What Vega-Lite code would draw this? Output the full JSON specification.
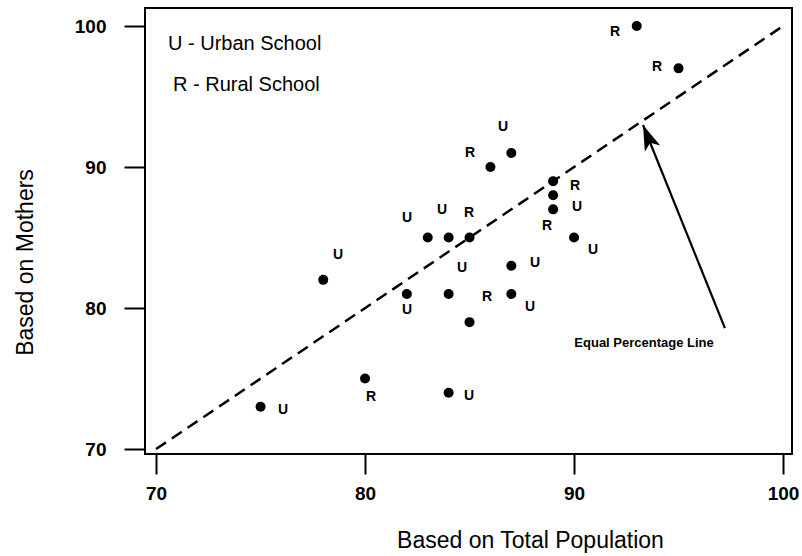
{
  "$schema": "https://vega.github.io/schema/vega-lite/v6.json",
  "width": 647,
  "height": 446,
  "autosize": {"type": "none"},
  "padding": {"left": 145, "top": 8, "right": 10, "bottom": 102},
  "background": "white",
  "config": {
    "view": {"stroke": "black", "strokeWidth": 2},
    "font": "Liberation Sans",
    "axis": {
      "domain": false,
      "grid": false,
      "tickColor": "black",
      "tickWidth": 2,
      "labelColor": "black",
      "titleColor": "black",
      "labelFont": "Liberation Sans",
      "titleFont": "Liberation Sans",
      "labelFontWeight": "bold",
      "titleFontWeight": "normal"
    }
  },
  "datasets": {
    "schools": [
      {"pop": 93, "moth": 100, "school": "R", "lx": 91.96, "ly": 99.57},
      {"pop": 95, "moth": 97, "school": "R", "lx": 93.97, "ly": 97.09},
      {"pop": 86, "moth": 90, "school": "R", "lx": 85.02, "ly": 90.99},
      {"pop": 87, "moth": 91, "school": "U", "lx": 86.6, "ly": 92.84},
      {"pop": 89, "moth": 89, "school": "R", "lx": 90.05, "ly": 88.65},
      {"pop": 89, "moth": 88, "school": "U", "lx": 90.14, "ly": 87.16},
      {"pop": 89, "moth": 87, "school": "R", "lx": 88.71, "ly": 85.82},
      {"pop": 90, "moth": 85, "school": "U", "lx": 90.91, "ly": 84.11},
      {"pop": 83, "moth": 85, "school": "U", "lx": 82.01, "ly": 86.38},
      {"pop": 84, "moth": 85, "school": "U", "lx": 83.68, "ly": 86.95},
      {"pop": 85, "moth": 85, "school": "R", "lx": 84.98, "ly": 86.74},
      {"pop": 78, "moth": 82, "school": "U", "lx": 78.71, "ly": 83.76},
      {"pop": 87, "moth": 83, "school": "U", "lx": 88.13, "ly": 83.19},
      {"pop": 84, "moth": 81, "school": "U", "lx": 84.64, "ly": 82.84},
      {"pop": 82, "moth": 81, "school": "U", "lx": 82.01, "ly": 79.86},
      {"pop": 87, "moth": 81, "school": "U", "lx": 87.89, "ly": 80.07},
      {"pop": 85, "moth": 79, "school": "R", "lx": 85.84, "ly": 80.78},
      {"pop": 80, "moth": 75, "school": "R", "lx": 80.29, "ly": 73.69},
      {"pop": 75, "moth": 73, "school": "U", "lx": 76.08, "ly": 72.77},
      {"pop": 84, "moth": 74, "school": "U", "lx": 84.98, "ly": 73.76}
    ],
    "equal": [{"x1": 70, "y1": 70, "x2": 100, "y2": 100}],
    "arrow": [{"x1": 97.22, "y1": 78.58, "x2": 93.3, "y2": 92.98}],
    "keys": [
      {"kx": 70.57, "ky": 98.76, "txt": "U - Urban School"},
      {"kx": 70.81, "ky": 95.82, "txt": "R - Rural School"}
    ],
    "note": [{"nx": 93.35, "ny": 77.52, "txt": "Equal Percentage Line"}]
  },
  "layer": [
    {
      "data": {"name": "equal"},
      "mark": {"type": "rule", "strokeDash": [12, 7], "strokeWidth": 2.5, "color": "black"},
      "encoding": {
        "x": {
          "field": "x1", "type": "quantitative",
          "scale": {"domain": [69.47, 100.43], "nice": false, "zero": false},
          "axis": {"values": [70, 80, 90, 100], "tickSize": 20, "labelFontSize": 19, "labelPadding": 10, "title": "Based on Total Population", "titleFontSize": 23, "titleX": 385, "titleY": 86, "titleAlign": "center", "titleBaseline": "middle"}
        },
        "y": {
          "field": "y1", "type": "quantitative",
          "scale": {"domain": [69.65, 101.28], "nice": false, "zero": false},
          "axis": {"values": [70, 80, 90, 100], "tickSize": 21, "labelFontSize": 19, "labelPadding": 18, "title": "Based on Mothers", "titleFontSize": 23, "titleX": -120, "titleY": 254, "titleAngle": -90, "titleAlign": "center", "titleBaseline": "middle"}
        },
        "x2": {"field": "x2"},
        "y2": {"field": "y2"}
      }
    },
    {
      "data": {"name": "schools"},
      "mark": {"type": "circle", "size": 100, "opacity": 1, "color": "black"},
      "encoding": {
        "x": {"field": "pop", "type": "quantitative"},
        "y": {"field": "moth", "type": "quantitative"}
      }
    },
    {
      "data": {"name": "schools"},
      "mark": {"type": "text", "fontSize": 14, "fontWeight": "bold", "align": "center", "baseline": "middle", "color": "black"},
      "encoding": {
        "x": {"field": "lx", "type": "quantitative"},
        "y": {"field": "ly", "type": "quantitative"},
        "text": {"field": "school"}
      }
    },
    {
      "data": {"name": "arrow"},
      "mark": {"type": "rule", "strokeWidth": 2.2, "color": "black"},
      "encoding": {
        "x": {"field": "x1", "type": "quantitative"},
        "y": {"field": "y1", "type": "quantitative"},
        "x2": {"field": "x2"},
        "y2": {"field": "y2"}
      }
    },
    {
      "data": {"name": "arrow"},
      "mark": {"type": "point", "shape": "M0,0L-0.65,2L0,1.5L0.65,2Z", "size": 650, "angle": 338, "filled": true, "opacity": 1, "color": "black"},
      "encoding": {
        "x": {"field": "x2", "type": "quantitative"},
        "y": {"field": "y2", "type": "quantitative"}
      }
    },
    {
      "data": {"name": "keys"},
      "mark": {"type": "text", "fontSize": 20, "align": "left", "baseline": "middle", "color": "black"},
      "encoding": {
        "x": {"field": "kx", "type": "quantitative"},
        "y": {"field": "ky", "type": "quantitative"},
        "text": {"field": "txt"}
      }
    },
    {
      "data": {"name": "note"},
      "mark": {"type": "text", "fontSize": 13, "fontWeight": "bold", "align": "center", "baseline": "middle", "color": "black"},
      "encoding": {
        "x": {"field": "nx", "type": "quantitative"},
        "y": {"field": "ny", "type": "quantitative"},
        "text": {"field": "txt"}
      }
    }
  ]
}
